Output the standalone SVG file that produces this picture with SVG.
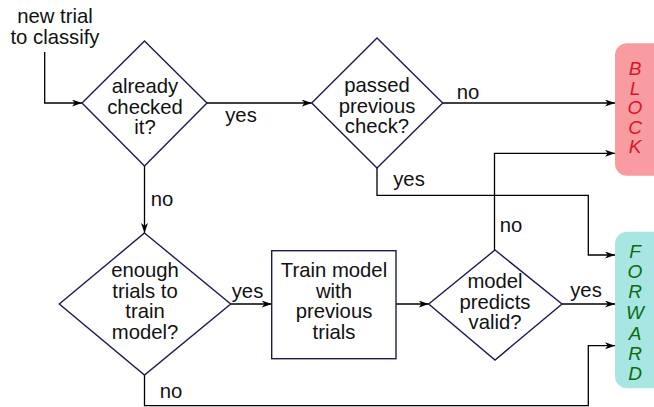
<svg xmlns="http://www.w3.org/2000/svg" width="654" height="407" viewBox="0 0 654 407">
  <defs>
    <marker id="arrow" markerUnits="userSpaceOnUse" markerWidth="11" markerHeight="8" refX="10" refY="3.5" orient="auto">
      <path d="M0,0 L10,3.5 L0,7 L2.8,3.5 z" fill="#000"/>
    </marker>
    <style>
      text { font-family: "Liberation Sans", Arial, sans-serif; font-size: 20.3px; fill: #111; text-anchor: middle; }
      .shape { fill: #fff; stroke: #1c1c54; stroke-width: 1.4; }
      .conn { fill: none; stroke: #000; stroke-width: 1.3; marker-end: url(#arrow); }
      .block text { fill: #d8142c; font-style: italic; font-size: 19px; }
      .forward text { fill: #0b6b0b; font-style: italic; font-size: 19px; }
    </style>
  </defs>
  <rect width="654" height="407" fill="#fff"/>

  <!-- connectors and their labels -->
  <g id="connectors">
    <path class="conn" d="M44.7,52 V103 H82"/>
    <path class="conn" d="M207,103 H311.7"/>
    <path class="conn" d="M442.7,103 H615"/>
    <path class="conn" d="M377,168 V195.3 H588.3 V255 H615"/>
    <path class="conn" d="M144.5,166 V233"/>
    <path class="conn" d="M230.7,304 H271.7"/>
    <path class="conn" d="M396,304 H428.7"/>
    <path class="conn" d="M562,304 H615"/>
    <path class="conn" d="M494.5,250 V153.3 H615"/>
    <path class="conn" d="M144.5,375 V405.7 H588.3 V345.7 H615"/>
    <text x="241" y="122">yes</text>
    <text x="468" y="99">no</text>
    <text x="409" y="186">yes</text>
    <text x="162" y="206">no</text>
    <text x="247.5" y="298">yes</text>
    <text x="586" y="297">yes</text>
    <text x="511" y="232">no</text>
    <text x="171" y="398">no</text>
  </g>

  <g id="start">
    <text x="55" y="23">new trial</text>
    <text x="55" y="44">to classify</text>
  </g>

  <g id="already-checked">
    <polygon class="shape" points="144.5,41 207,103 144.5,166 82,103"/>
    <text x="145" y="93">already</text>
    <text x="145" y="113.5">checked</text>
    <text x="145" y="134">it?</text>
  </g>

  <g id="passed-check">
    <polygon class="shape" points="377,38 442.7,103 377,168 311.7,103"/>
    <text x="377" y="92">passed</text>
    <text x="377" y="112.5">previous</text>
    <text x="377" y="133">check?</text>
  </g>

  <g id="enough-trials">
    <polygon class="shape" points="144.5,233 230.7,304 144.5,375 59.3,304"/>
    <text x="145" y="277">enough</text>
    <text x="145" y="297.5">trials to</text>
    <text x="145" y="318">train</text>
    <text x="145" y="339">model?</text>
  </g>

  <g id="train-model">
    <rect class="shape" x="271.7" y="250.7" width="124.3" height="108"/>
    <text x="334" y="277">Train model</text>
    <text x="334" y="297.5">with</text>
    <text x="334" y="318">previous</text>
    <text x="334" y="339">trials</text>
  </g>

  <g id="model-predicts">
    <polygon class="shape" points="495,250 562,304 495,360 428.7,304"/>
    <text x="495" y="288">model</text>
    <text x="495" y="308.5">predicts</text>
    <text x="495" y="329">valid?</text>
  </g>

  <g id="block" class="block">
    <rect x="615" y="43.3" width="52" height="132.4" rx="12" fill="#f99ca2"/>
    <text x="635" y="75">B</text>
    <text x="635" y="94.5">L</text>
    <text x="635" y="114">O</text>
    <text x="635" y="133.5">C</text>
    <text x="635" y="153">K</text>
  </g>

  <g id="forward" class="forward">
    <rect x="615" y="231.7" width="52" height="156.6" rx="12" fill="#a8e6e3"/>
    <text x="635" y="258">F</text>
    <text x="635" y="278">O</text>
    <text x="635" y="298">R</text>
    <text x="635" y="318.5">W</text>
    <text x="635" y="339.5">A</text>
    <text x="635" y="359.5">R</text>
    <text x="635" y="380">D</text>
  </g>
</svg>
